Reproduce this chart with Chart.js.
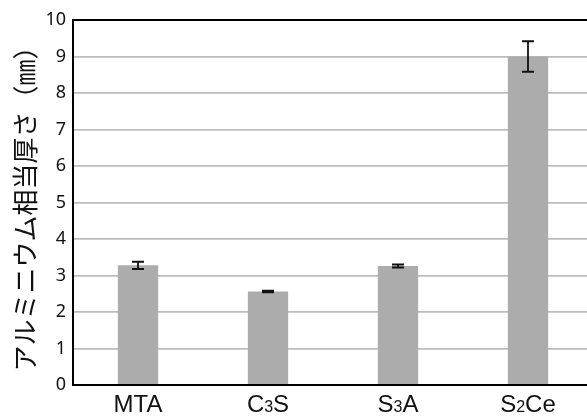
<!DOCTYPE html>
<html>
<head>
<meta charset="utf-8">
<script src="https://cdn.jsdelivr.net/npm/chart.js@4/dist/chart.umd.min.js"></script>
<style>
  html, body { margin: 0; padding: 0; overflow: hidden; background: #fff; }
  #wrap { width: 600px; height: 416px; }
</style>
</head>
<body>
<div id="wrap"><canvas id="c"></canvas></div>
<script>
// Radiopacity (aluminium-equivalent thickness) of each material
const categories = ['MTA', 'C₃S', 'S₃A', 'S₂Ce'];
const thickness = [3.28, 2.56, 3.26, 9.0];
const errors = [0.10, 0.02, 0.04, 0.42];
const yTicks = [0, 1, 2, 3, 4, 5, 6, 7, 8, 9, 10];

const SUBS = { '₀': '0', '₁': '1', '₂': '2', '₃': '3', '₄': '4', '₅': '5', '₆': '6', '₇': '7', '₈': '8', '₉': '9' };

// split a label into runs of normal text and subscript digits
function runs(label) {
  const out = [];
  for (const ch of label) {
    const sub = ch in SUBS;
    const t = sub ? SUBS[ch] : ch;
    if (out.length && out[out.length - 1].sub === sub) out[out.length - 1].text += t;
    else out.push({ text: t, sub });
  }
  return out;
}

const frame = {
  id: 'frame',
  afterDatasetsDraw(chart) {
    const { ctx, chartArea: a, scales } = chart;
    const y = scales.y;
    // error bars
    ctx.save();
    ctx.strokeStyle = '#111';
    chart.getDatasetMeta(0).data.forEach((bar, i) => {
      const cx = bar.x;
      const hi = y.getPixelForValue(thickness[i] + errors[i]);
      const lo = y.getPixelForValue(thickness[i] - errors[i]);
      ctx.lineWidth = 1.8;
      ctx.beginPath();
      ctx.moveTo(cx, hi); ctx.lineTo(cx, lo);
      ctx.stroke();
      ctx.lineWidth = 2;
      ctx.beginPath();
      ctx.moveTo(cx - 6, hi); ctx.lineTo(cx + 6, hi);
      ctx.moveTo(cx - 6, lo); ctx.lineTo(cx + 6, lo);
      ctx.stroke();
    });
    // top edge of the plot frame
    ctx.strokeStyle = '#000';
    ctx.lineWidth = 2;
    ctx.beginPath();
    ctx.moveTo(a.left - 1, a.top);
    ctx.lineTo(a.right + 1, a.top);
    ctx.stroke();
    ctx.restore();
  },
  afterDraw(chart) {
    // category labels with subscript digits
    const { ctx, chartArea: a } = chart;
    const x = chart.scales.x;
    const big = '24px "Liberation Sans", Arial, sans-serif';
    const small = '16px "Liberation Sans", Arial, sans-serif';
    ctx.save();
    ctx.fillStyle = '#111';
    ctx.textBaseline = 'alphabetic';
    ctx.textAlign = 'left';
    categories.forEach((lab, i) => {
      const parts = runs(lab);
      let w = 0;
      parts.forEach(p => { ctx.font = p.sub ? small : big; p.w = ctx.measureText(p.text).width; w += p.w; });
      let px = x.getPixelForValue(i) - w / 2;
      const base = a.bottom + 27;
      parts.forEach(p => {
        ctx.font = p.sub ? small : big;
        ctx.fillText(p.text, px, base);
        px += p.w;
      });
    });
    ctx.restore();
  }
};

new Chart(document.getElementById('c'), {
  type: 'bar',
  data: {
    labels: categories,
    datasets: [{
      data: thickness,
      backgroundColor: '#acacac',
      borderWidth: 0,
      barPercentage: 0.31,
      categoryPercentage: 1.0
    }]
  },
  options: {
    responsive: true,
    maintainAspectRatio: false,
    animation: false,
    layout: { padding: { left: 0, right: 7, top: 20, bottom: 0 } },
    plugins: { legend: { display: false }, tooltip: { enabled: false } },
    scales: {
      x: {
        grid: { display: false },
        border: { display: true, color: '#000', width: 2 },
        ticks: { display: false },
        afterFit(s) { s.height = 31; }
      },
      y: {
        min: 0,
        max: 10,
        afterBuildTicks(s) { s.ticks = yTicks.map(v => ({ value: v })); },
        grid: { color: '#bdbdbd', lineWidth: 1.8, drawTicks: false },
        border: { display: true, color: '#000', width: 2 },
        ticks: {
          padding: 7,
          color: '#111',
          font: { family: '"Noto Sans", "Liberation Sans", sans-serif', size: 18 }
        },
        title: {
          display: true,
          text: 'アルミニウム相当厚さ（㎜）',
          color: '#111',
          font: { family: '"Noto Sans CJK JP", sans-serif', size: 26 },
          padding: { top: 10, bottom: 0 }
        },
        afterFit(s) { s.width = 73; }
      }
    }
  },
  plugins: [frame]
});
</script>
</body>
</html>
